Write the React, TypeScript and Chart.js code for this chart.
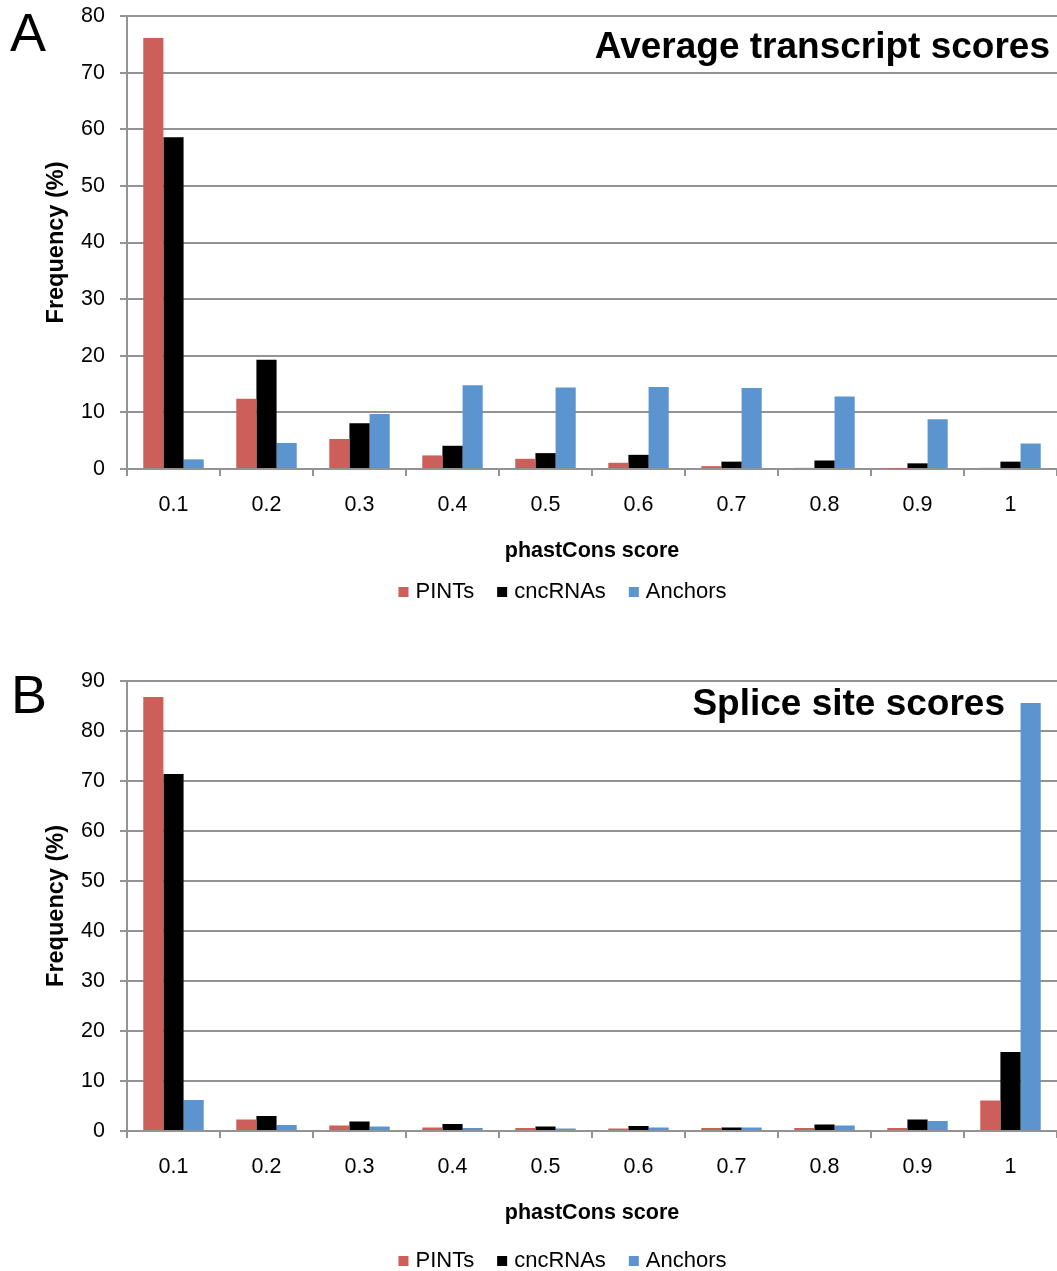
import React, { useEffect, useRef } from "react";
import { Chart, registerables } from "chart.js";

Chart.register(...registerables);

const FONT = '"Liberation Sans", Arial, Helvetica, sans-serif';
const GRID = "#939393";

const categories = ["0.1", "0.2", "0.3", "0.4", "0.5", "0.6", "0.7", "0.8", "0.9", "1"];
const seriesNames = ["PINTs", "cncRNAs", "Anchors"];
const seriesColors = ["#CD5F5A", "#000000", "#5B94CE"];

// Panel A: Average transcript scores
const pintsA = [76.1, 12.4, 5.3, 2.4, 1.8, 1.1, 0.5, 0.2, 0.05, 0.2];
const cncA = [58.6, 19.3, 8.1, 4.1, 2.8, 2.5, 1.3, 1.5, 1.0, 1.3];
const anchorsA = [1.7, 4.6, 9.7, 14.8, 14.4, 14.5, 14.3, 12.8, 8.8, 4.5];
const yMaxA = 80;

// Panel B: Splice site scores
const pintsB = [86.8, 2.3, 1.1, 0.7, 0.6, 0.5, 0.6, 0.6, 0.6, 6.1];
const cncB = [71.4, 3.0, 1.9, 1.4, 0.9, 1.0, 0.7, 1.3, 2.3, 15.8];
const anchorsB = [6.2, 1.2, 0.9, 0.6, 0.5, 0.7, 0.7, 1.1, 2.0, 85.6];
const yMaxB = 90;

const yStep = 10;
const xTitle = "phastCons score";
const yTitle = "Frequency (%)";

type PanelProps = {
  values: number[][];
  yMax: number;
  letter: string;
  title: string;
  height: number;
  plotTop: number;
  xAxisH: number;
  xTitlePad: number;
  letterX: number;
  letterY: number;
  titleRight: number;
  titleY: number;
  legendY: number;
};

const overlayPlugin = {
  id: "overlay",
  afterDraw(chart: any, _args: any, opts: any) {
    const ctx = chart.ctx as CanvasRenderingContext2D;
    ctx.save();
    ctx.fillStyle = "#000";
    ctx.textBaseline = "alphabetic";
    ctx.textAlign = "left";
    ctx.font = `54px ${FONT}`;
    ctx.fillText(opts.letter, opts.letterX, opts.letterY);
    ctx.textAlign = "right";
    ctx.font = `bold 37px ${FONT}`;
    ctx.fillText(opts.title, opts.titleRight, opts.titleY);

    // legend
    ctx.font = `22px ${FONT}`;
    ctx.textAlign = "left";
    ctx.textBaseline = "middle";
    const box = 10;
    const gap = 7;
    const itemGap = 23;
    const ds = chart.data.datasets;
    const widths = ds.map((d: any) => box + gap + ctx.measureText(d.label).width);
    const total = widths.reduce((a: number, b: number) => a + b, 0) + itemGap * (ds.length - 1);
    let x = opts.legendCenter - total / 2;
    ds.forEach((d: any, i: number) => {
      ctx.fillStyle = d.backgroundColor;
      ctx.fillRect(x, opts.legendY - box / 2 + 1, box, box);
      ctx.fillStyle = "#000";
      ctx.fillText(d.label, x + box + gap, opts.legendY + 1);
      x += widths[i] + itemGap;
    });
    ctx.restore();
  },
};

function Panel(p: PanelProps) {
  const ref = useRef<HTMLCanvasElement | null>(null);
  useEffect(() => {
    if (!ref.current) return;
    const chart = new Chart(ref.current, {
      type: "bar",
      data: {
        labels: categories,
        datasets: seriesNames.map((name, i) => ({
          label: name,
          data: p.values[i],
          backgroundColor: seriesColors[i],
          borderWidth: 0,
          categoryPercentage: 0.65,
          barPercentage: 1.0,
        })),
      },
      options: {
        responsive: false,
        animation: false,
        devicePixelRatio: 1,
        layout: { padding: { top: p.plotTop, left: 0, right: 0, bottom: 0 } },
        plugins: {
          legend: { display: false },
          title: { display: false },
          tooltip: { enabled: false },
          overlay: {
            letter: p.letter,
            title: p.title,
            letterX: p.letterX,
            letterY: p.letterY,
            titleRight: p.titleRight,
            titleY: p.titleY,
            legendY: p.legendY,
            legendCenter: 562.5,
          },
        } as any,
        scales: {
          x: {
            grid: {
              display: true,
              drawOnChartArea: false,
              drawTicks: true,
              tickLength: 7,
              color: GRID,
              lineWidth: 2,
              offset: true,
            },
            border: { color: GRID, width: 2 },
            ticks: {
              color: "#000",
              font: { size: 21.5, family: FONT },
              padding: 16,
              maxRotation: 0,
              autoSkip: false,
            },
            title: {
              display: true,
              text: xTitle,
              color: "#000",
              font: { size: 21.5, family: FONT, weight: "bold" },
              padding: { top: 0, bottom: p.xTitlePad },
            },
            afterFit: (s: any) => {
              s.height = p.xAxisH;
              s.paddingLeft = 0;
              s.paddingRight = 0;
            },
          } as any,
          y: {
            min: 0,
            max: p.yMax,
            ticks: {
              stepSize: yStep,
              color: "#000",
              font: { size: 21.5, family: FONT },
              padding: 15,
            },
            grid: { color: GRID, lineWidth: 2, tickLength: 7 },
            border: { color: GRID, width: 2 },
            title: {
              display: true,
              text: yTitle,
              color: "#000",
              font: { size: 23.5, family: FONT, weight: "bold" },
              padding: { top: 42, bottom: 0 },
            },
            afterFit: (s: any) => {
              s.width = 127;
              s.paddingTop = 0;
              s.paddingBottom = 0;
            },
          } as any,
        },
      },
      plugins: [overlayPlugin],
    });
    return () => chart.destroy();
  }, []);
  return (
    <canvas
      ref={ref}
      width={1057}
      height={p.height}
      style={{ display: "block", width: 1057, height: p.height }}
    />
  );
}

export default function App() {
  return (
    <div style={{ position: "absolute", left: 0, top: 0, width: 1057, background: "#fff" }}>
      <Panel
        values={[pintsA, cncA, anchorsA]}
        yMax={yMaxA}
        letter="A"
        title="Average transcript scores"
        height={620}
        plotTop={16}
        xAxisH={151}
        xTitlePad={56}
        letterX={10}
        letterY={51}
        titleRight={1050}
        titleY={58}
        legendY={591}
      />
      <div style={{ height: 20 }} />
      <Panel
        values={[pintsB, cncB, anchorsB]}
        yMax={yMaxB}
        letter="B"
        title="Splice site scores"
        height={631}
        plotTop={41}
        xAxisH={140}
        xTitlePad={45}
        letterX={11}
        letterY={73}
        titleRight={1005}
        titleY={75}
        legendY={620}
      />
    </div>
  );
}
